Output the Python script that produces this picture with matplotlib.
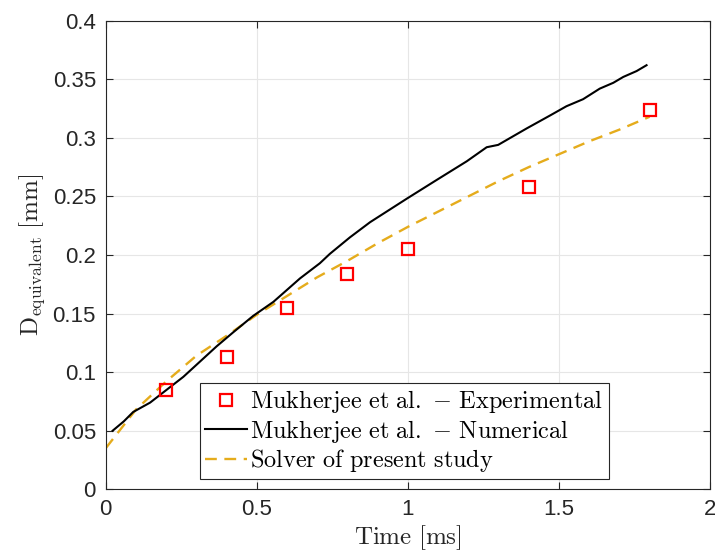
import matplotlib
matplotlib.use("Agg")
import matplotlib.pyplot as plt

plt.rcParams['mathtext.fontset'] = 'cm'
plt.rcParams['font.family'] = ['Liberation Sans', 'DejaVu Sans']

# Experimental data (Mukherjee et al.)
exp_t = [0.2, 0.4, 0.6, 0.8, 1.0, 1.4, 1.8]
exp_d = [0.085, 0.113, 0.155, 0.184, 0.205, 0.258, 0.324]

# Numerical data (Mukherjee et al.)
num_t = [0.023, 0.060, 0.091, 0.147, 0.202, 0.257, 0.312, 0.367, 0.422, 0.488, 0.555,
         0.599, 0.643, 0.709, 0.742, 0.808, 0.875, 0.996, 1.095, 1.195, 1.261,
         1.299, 1.393, 1.470, 1.525, 1.580, 1.635, 1.680, 1.713, 1.757, 1.790]
num_d = [0.050, 0.058, 0.066, 0.074, 0.085, 0.096, 0.109, 0.122, 0.134, 0.148, 0.160,
         0.170, 0.180, 0.193, 0.201, 0.215, 0.228, 0.248, 0.264, 0.280, 0.292,
         0.294, 0.308, 0.319, 0.327, 0.333, 0.342, 0.347, 0.352, 0.357, 0.362]

# Present solver
sol_t = [0.0, 0.1, 0.2, 0.3, 0.4, 0.5, 0.6, 0.7, 0.8, 0.9, 1.0, 1.1, 1.2, 1.3,
         1.4, 1.5, 1.6, 1.7, 1.8]
sol_d = [0.035, 0.068, 0.092, 0.114, 0.131, 0.149, 0.165, 0.181, 0.195, 0.210,
         0.224, 0.237, 0.250, 0.263, 0.275, 0.286, 0.297, 0.307, 0.318]

xticks = [0, 0.5, 1, 1.5, 2]
xticklabels = ['0', '0.5', '1', '1.5', '2']
yticks = [0, 0.05, 0.1, 0.15, 0.2, 0.25, 0.3, 0.35, 0.4]
yticklabels = ['0', '0.05', '0.1', '0.15', '0.2', '0.25', '0.3', '0.35', '0.4']

fig = plt.figure(figsize=(7.15, 5.58), dpi=100)
ax = fig.add_axes([0.1478, 0.1231, 0.8452, 0.8398])

ax.plot(exp_t, exp_d, 's', color='red', markerfacecolor='none',
        markersize=8.5, markeredgewidth=1.6,
        label=r'$\mathrm{Mukherjee\ et\ al.}\ {-}\ \mathrm{Experimental}$', zorder=4)
ax.plot(num_t, num_d, '-', color='black', linewidth=1.5,
        label=r'$\mathrm{Mukherjee\ et\ al.}\ {-}\ \mathrm{Numerical}$', zorder=3)
ax.plot(sol_t, sol_d, '--', color='#E5AC1C', linewidth=1.7, dashes=(5, 3.2),
        label=r'$\mathrm{Solver\ of\ present\ study}$', zorder=2)

ax.set_xlim(0, 2)
ax.set_ylim(0, 0.4)
ax.set_xticks(xticks)
ax.set_xticklabels(xticklabels)
ax.set_yticks(yticks)
ax.set_yticklabels(yticklabels)

ax.grid(True, color='#e6e6e6', linewidth=0.8)
ax.set_axisbelow(True)
ax.tick_params(direction='in', top=True, right=True, length=5, width=0.8,
               colors='#262626', labelsize=16, pad=7)
for s in ax.spines.values():
    s.set_color('#262626')
    s.set_linewidth(0.8)

ax.set_xlabel(r'$\mathrm{Time\ [ms]}$', fontsize=18, labelpad=2, color='#262626')
ax.set_ylabel(r'$\mathrm{D_{equivalent}\ [mm]}$', fontsize=18, labelpad=4, color='#262626')

leg = ax.legend(loc='lower left', bbox_to_anchor=(0.156, 0.021), borderaxespad=0,
                fontsize=17.5, fancybox=False, framealpha=1, edgecolor='#262626',
                handlelength=1.7, handletextpad=0.15, borderpad=0.22, labelspacing=0.1)
leg.get_frame().set_linewidth(0.8)

fig.savefig('out.png', dpi=100)
